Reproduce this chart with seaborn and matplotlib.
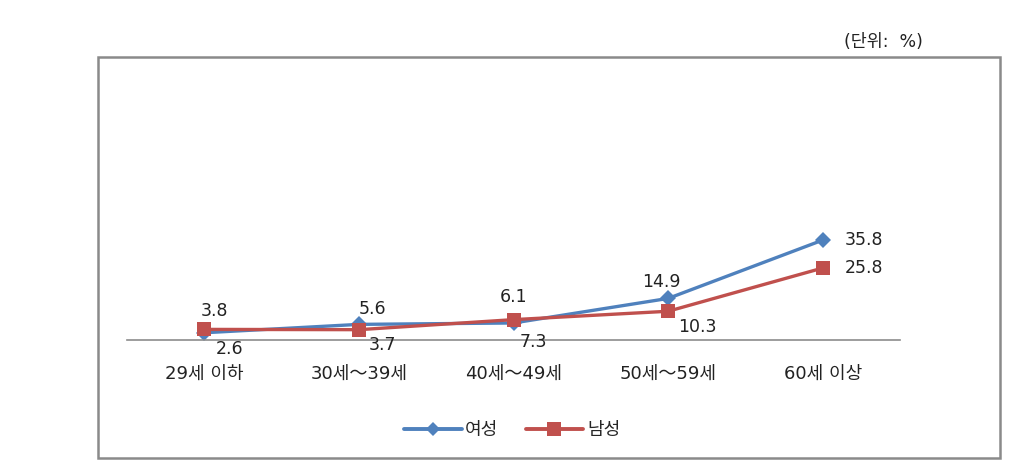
import matplotlib
matplotlib.use("Agg")
import matplotlib.pyplot as plt
import seaborn as sns
import pandas as pd
from matplotlib.patches import Rectangle
from matplotlib.lines import Line2D

categories = ["29세 이하", "30세～39세", "40세～49세", "50세～59세", "60세 이상"]
female = [2.6, 5.6, 6.1, 14.9, 35.8]
male = [3.8, 3.7, 7.3, 10.3, 25.8]
series_names = ["여성", "남성"]

sns.set_theme(style="white")
plt.rcParams["font.family"] = ["DejaVu Sans", "Noto Sans CJK KR"]

BLUE = "#4F81BD"
RED = "#C0504D"
TXT = "#222222"

df = pd.DataFrame({
    "cat": categories * 2,
    "x": list(range(len(categories))) * 2,
    "value": female + male,
    "series": [series_names[0]] * len(categories) + [series_names[1]] * len(categories),
})

fig = plt.figure(figsize=(10.13, 4.66), dpi=100)
ax = fig.add_axes([127 / 1013, 126 / 466, 773 / 1013, 223.2 / 466])

sns.lineplot(data=df, x="x", y="value", hue="series", style="series",
             palette={series_names[0]: BLUE, series_names[1]: RED},
             markers={series_names[0]: "D", series_names[1]: "s"},
             dashes=False, linewidth=2.4, markeredgewidth=0,
             ax=ax, legend=False, clip_on=False)
for ln, ms in zip(ax.lines, [8, 10]):
    ln.set_markersize(ms)
    ln.set_clip_on(False)

ax.set_xlim(-0.5, len(categories) - 0.5)
ax.set_ylim(0, 80)
ax.set_xticks(range(len(categories)))
ax.set_xticklabels(categories, fontsize=13, color=TXT)
ax.tick_params(axis="x", length=0, pad=18)
ax.set_yticks([])
ax.set_xlabel("")
ax.set_ylabel("")
for s in ["top", "left", "right"]:
    ax.spines[s].set_visible(False)
ax.spines["bottom"].set_color("#8C8C8C")
ax.spines["bottom"].set_linewidth(1.2)

# label offsets in points (dx, dy)
f_off = [(18, -12), (10, 11), (0, 19), (-5, 12), (30, 0)]
m_off = [(7, 13), (17, -11), (14, -16), (21, -11), (30, 0)]
for i, v in enumerate(female):
    ax.annotate(f"{v:.1f}", (i, v), xytext=f_off[i], textcoords="offset points",
                ha="center", va="center", fontsize=12.5, color=TXT)
for i, v in enumerate(male):
    ax.annotate(f"{v:.1f}", (i, v), xytext=m_off[i], textcoords="offset points",
                ha="center", va="center", fontsize=12.5, color=TXT)

handles = [Line2D([0], [0], color=BLUE, lw=2.8, marker="D", ms=7, mew=0),
           Line2D([0], [0], color=RED, lw=2.8, marker="s", ms=10, mew=0)]
fig.legend(handles, series_names, loc="center", bbox_to_anchor=(512 / 1013, 1 - 430 / 466),
           ncol=2, frameon=False, fontsize=13, handlelength=3.2, columnspacing=1.5,
           handletextpad=0.2)

fig.patches.append(Rectangle((98 / 1013, 1 - 458 / 466), 902 / 1013, 401 / 466,
                             transform=fig.transFigure, fill=False,
                             edgecolor="#8A8A8A", linewidth=1.8))
fig.text(923 / 1013, 1 - 42 / 466, "(단위:  %)", ha="right", va="center",
         fontsize=12.5, color=TXT)

fig.savefig("out.png", dpi=100)
